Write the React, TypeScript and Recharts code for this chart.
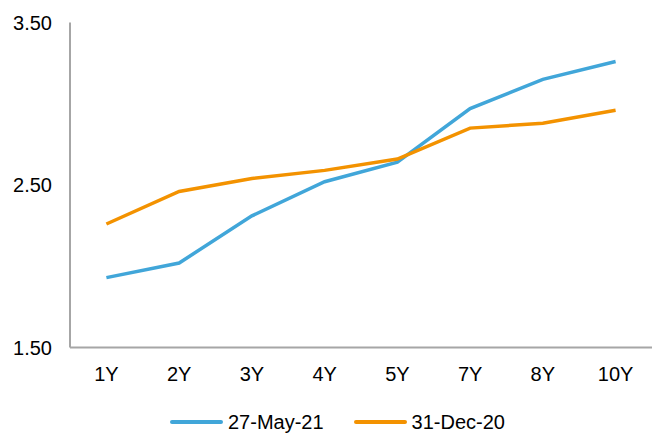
import React from "react";
import { LineChart, Line, XAxis, YAxis, Legend } from "recharts";

const categories = ["1Y", "2Y", "3Y", "4Y", "5Y", "7Y", "8Y", "10Y"];
const may21 = [1.93, 2.02, 2.31, 2.52, 2.64, 2.97, 3.15, 3.26];
const dec20 = [2.26, 2.46, 2.54, 2.59, 2.66, 2.85, 2.88, 2.96];
const yTicks = [1.5, 2.5, 3.5];
const seriesNames = ["27-May-21", "31-Dec-20"];
const colors = ["#41A6D9", "#F39200"];

const data = categories.map((c, i) => ({ cat: c, a: may21[i], b: dec20[i] }));

const FONT = "'Liberation Sans', Arial, sans-serif";

const LegendContent = () => (
  <div
    style={{
      height: 20,
      display: "flex",
      alignItems: "center",
      paddingLeft: 170,
      fontFamily: FONT,
      fontSize: 20,
      color: "#000",
    }}
  >
    {seriesNames.map((n, i) => (
      <div key={n} style={{ display: "flex", alignItems: "center", marginRight: 30 }}>
        <div style={{ width: 53, height: 4, background: colors[i], borderRadius: 2, marginRight: 5 }} />
        <span>{n}</span>
      </div>
    ))}
  </div>
);

export default function App() {
  return (
    <div style={{ position: "absolute", left: 0, top: 0, background: "#fff" }}>
      <LineChart width={652} height={433} data={data} margin={{ top: 22.5, right: 0, bottom: 1, left: 0 }}>
        <XAxis
          dataKey="cat"
          height={64.5}
          padding={{ left: 36.4, right: 36.4 }}
          tickLine={false}
          tickSize={0}
          tickMargin={19}
          stroke="#A6A6A6"
          strokeWidth={2}
          tick={{ fill: "#000", fontSize: 20, fontFamily: FONT }}
        />
        <YAxis
          width={70}
          domain={[1.5, 3.5]}
          ticks={yTicks}
          tickFormatter={(v: number) => v.toFixed(2)}
          tickLine={false}
          tickSize={0}
          tickMargin={18}
          stroke="#A6A6A6"
          strokeWidth={2}
          tick={{ fill: "#000", fontSize: 20, fontFamily: FONT }}
        />
        <Legend verticalAlign="bottom" content={<LegendContent />} />
        <Line dataKey="a" name={seriesNames[0]} stroke={colors[0]} strokeWidth={3.5} dot={false} isAnimationActive={false} />
        <Line dataKey="b" name={seriesNames[1]} stroke={colors[1]} strokeWidth={3.5} dot={false} isAnimationActive={false} />
      </LineChart>
    </div>
  );
}
